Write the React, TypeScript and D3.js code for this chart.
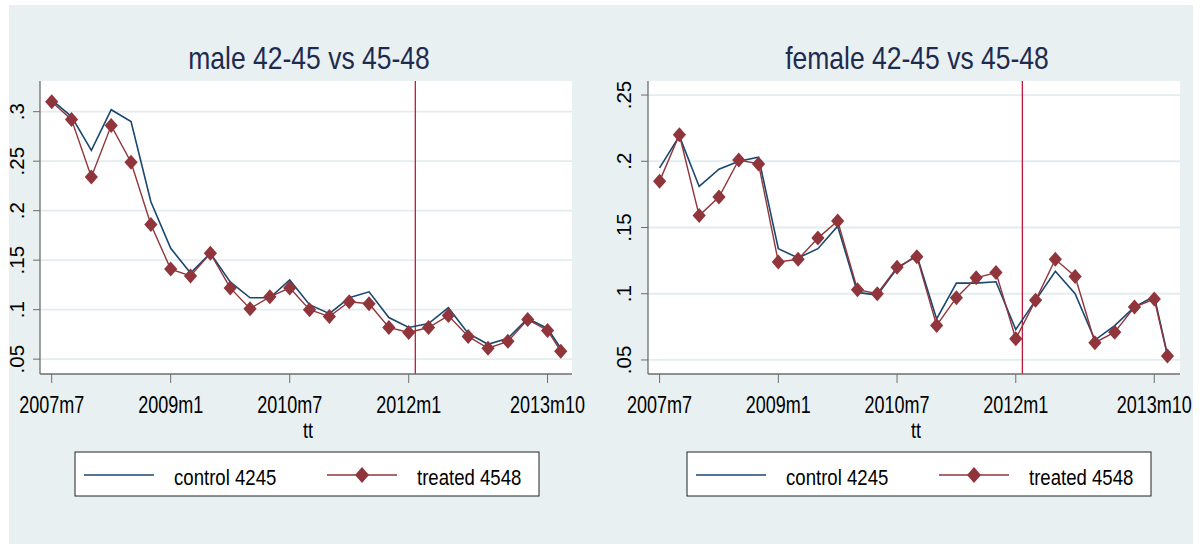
import React from "react";
import * as d3 from "d3";

// ---------- data ----------
const periods = [
  "2007m7", "2007m10", "2008m1", "2008m4", "2008m7", "2008m10",
  "2009m1", "2009m4", "2009m7", "2009m10", "2010m1", "2010m4",
  "2010m7", "2010m10", "2011m1", "2011m4", "2011m7", "2011m10",
  "2012m1", "2012m4", "2012m7", "2012m10", "2013m1", "2013m4",
  "2013m7", "2013m10", "2013m12",
];

const maleControl = [
  0.312, 0.295, 0.261, 0.302, 0.290, 0.209, 0.162, 0.137, 0.157, 0.128,
  0.112, 0.112, 0.130, 0.105, 0.096, 0.112, 0.118, 0.092, 0.082, 0.086,
  0.102, 0.076, 0.065, 0.071, 0.091, 0.081, 0.061,
];
const maleTreated = [
  0.310, 0.292, 0.234, 0.286, 0.249, 0.186, 0.141, 0.134, 0.157, 0.122,
  0.101, 0.113, 0.122, 0.100, 0.093, 0.108, 0.106, 0.082, 0.077, 0.082,
  0.094, 0.073, 0.061, 0.068, 0.090, 0.079, 0.058,
];
const femaleControl = [
  0.195, 0.219, 0.181, 0.194, 0.200, 0.203, 0.134, 0.127, 0.134, 0.151,
  0.101, 0.099, 0.119, 0.129, 0.081, 0.108, 0.108, 0.109, 0.073, 0.095,
  0.117, 0.100, 0.065, 0.076, 0.090, 0.098, 0.054,
];
const femaleTreated = [
  0.185, 0.220, 0.159, 0.173, 0.201, 0.198, 0.124, 0.126, 0.142, 0.155,
  0.103, 0.100, 0.120, 0.128, 0.076, 0.097, 0.112, 0.116, 0.066, 0.095,
  0.126, 0.113, 0.063, 0.071, 0.090, 0.096, 0.053,
];

const xTickLabels = ["2007m7", "2009m1", "2010m7", "2012m1", "2013m10"];
const maleYTicks = [0.05, 0.1, 0.15, 0.2, 0.25, 0.3];
const femaleYTicks = [0.05, 0.1, 0.15, 0.2, 0.25];
const maleYDomain = [0.035, 0.331];
const femaleYDomain = [0.0394, 0.2606];
const eventPeriod = "2012m2";
const titles = ["male 42-45 vs 45-48", "female 42-45 vs 45-48"];
const legendLabels = ["control 4245", "treated 4548"];
const xAxisTitle = "tt";

// ---------- helpers ----------
const BASE = 2007 * 12 + 6;
function monthIndex(p: string): number {
  const [y, m] = p.split("m").map(Number);
  return y * 12 + (m - 1) - BASE;
}
const fmtY = (v: number) => String(v).replace(/^0/, "");

const FONT = "'Liberation Sans', Arial, Helvetica, sans-serif";
const NAVY = "#1A476F";
const MAROON = "#90353B";
const XLINE = "#C0183A";
const BG = "#E8F0F2";
const GRID = "#E3ECEF";
const AXIS = "#6E6E6E";

function diamondPath(hw: number, hh: number) {
  const p = d3.path();
  p.moveTo(0, -hh);
  p.lineTo(hw, 0);
  p.lineTo(0, hh);
  p.lineTo(-hw, 0);
  p.closePath();
  return p.toString();
}

type PanelProps = {
  left: number;
  right: number;
  top: number;
  bottom: number;
  xDomain: [number, number];
  yDomain: number[];
  yTicks: number[];
  control: number[];
  treated: number[];
  title: string;
  labelX: number;
  legendLeft: number;
};

function Panel(p: PanelProps) {
  const x = d3.scaleLinear().domain(p.xDomain).range([p.left, p.right]);
  const y = d3.scaleLinear().domain(p.yDomain).range([p.bottom, p.top]);
  const months = periods.map(monthIndex);
  const line = d3
    .line<number>()
    .x((_, i) => x(months[i]))
    .y((d) => y(d));
  const cx = (p.left + p.right) / 2;
  const diamond = diamondPath(6.6, 7.5);
  const legendDiamond = diamondPath(7, 8);
  const lg = p.legendLeft;
  return (
    <g>
      <rect x={p.left} y={p.top} width={p.right - p.left} height={p.bottom - p.top} fill="#fff" />
      {p.yTicks.map((t) => (
        <line key={"g" + t} x1={p.left} x2={p.right} y1={y(t)} y2={y(t)} stroke={GRID} strokeWidth={1.8} />
      ))}
      <line
        x1={x(monthIndex(eventPeriod))}
        x2={x(monthIndex(eventPeriod))}
        y1={p.top}
        y2={p.bottom}
        stroke={XLINE}
        strokeWidth={1.3}
      />
      <path d={line(p.control) || ""} fill="none" stroke={NAVY} strokeWidth={1.6} />
      <path d={line(p.treated) || ""} fill="none" stroke={MAROON} strokeWidth={1.4} />
      {p.treated.map((v, i) => (
        <path key={"d" + i} d={diamond} transform={`translate(${x(months[i])},${y(v)})`} fill={MAROON} />
      ))}
      {/* axes */}
      <line x1={p.left} x2={p.left} y1={p.top} y2={p.bottom} stroke={AXIS} strokeWidth={1.3} />
      <line x1={p.left} x2={p.right} y1={p.bottom} y2={p.bottom} stroke={AXIS} strokeWidth={1.3} />
      {p.yTicks.map((t) => (
        <g key={"yt" + t}>
          <line x1={p.left - 7} x2={p.left} y1={y(t)} y2={y(t)} stroke={AXIS} strokeWidth={1} />
          <text
            transform={`translate(${p.labelX},${y(t)}) scale(1,1.05) rotate(-90)`}
            textAnchor="middle"
            fontSize={19.5}
            fontFamily={FONT}
            fill="#000"
          >
            {fmtY(t)}
          </text>
        </g>
      ))}
      {xTickLabels.map((lab) => {
        const xx = x(monthIndex(lab));
        return (
          <g key={"xt" + lab}>
            <line x1={xx} x2={xx} y1={p.bottom} y2={p.bottom + 9} stroke={AXIS} strokeWidth={1} />
            <text
              transform={`translate(${xx},413) scale(1,1.28)`}
              textAnchor="middle"
              fontSize={18}
              fontFamily={FONT}
              fill="#000"
            >
              {lab}
            </text>
          </g>
        );
      })}
      <text
        transform={`translate(${cx + 2},438) scale(1,1.2)`}
        textAnchor="middle"
        fontSize={18}
        fontFamily={FONT}
        fill="#000"
      >
        {xAxisTitle}
      </text>
      <text
        transform={`translate(${cx + 3},69) scale(1,1.16)`}
        textAnchor="middle"
        fontSize={26.5}
        fontFamily={FONT}
        fill="#1E2B4E"
      >
        {p.title}
      </text>
      {/* legend */}
      <rect x={lg} y={452} width={464} height={44} fill="#fff" stroke="#222" strokeWidth={1} />
      <line x1={lg + 9} x2={lg + 79} y1={475} y2={475} stroke={NAVY} strokeWidth={1.6} />
      <text
        transform={`translate(${lg + 99},485) scale(1,1.2)`}
        fontSize={18.6}
        fontFamily={FONT}
        fill="#000"
      >
        {legendLabels[0]}
      </text>
      <line x1={lg + 252} x2={lg + 322} y1={475} y2={475} stroke={MAROON} strokeWidth={1.4} />
      <path d={legendDiamond} transform={`translate(${lg + 287},475)`} fill={MAROON} />
      <text
        transform={`translate(${lg + 342},485) scale(1,1.2)`}
        fontSize={18.6}
        fontFamily={FONT}
        fill="#000"
      >
        {legendLabels[1]}
      </text>
    </g>
  );
}

export default function App() {
  return (
    <div style={{ position: "absolute", left: 0, top: 0 }}>
      <svg width={1200} height={544} style={{ display: "block", background: "#fff" }}>
        <rect x={9} y={5} width={1184} height={539} fill={BG} />
        <Panel
          left={40}
          right={572}
          top={81}
          bottom={374}
          xDomain={[-1.77, 78.7]}
          yDomain={maleYDomain}
          yTicks={maleYTicks}
          control={maleControl}
          treated={maleTreated}
          title={titles[0]}
          labelX={24}
          legendLeft={75}
        />
        <Panel
          left={648}
          right={1180}
          top={81}
          bottom={374}
          xDomain={[-1.76, 78.9]}
          yDomain={femaleYDomain}
          yTicks={femaleYTicks}
          control={femaleControl}
          treated={femaleTreated}
          title={titles[1]}
          labelX={631}
          legendLeft={687}
        />
      </svg>
    </div>
  );
}
